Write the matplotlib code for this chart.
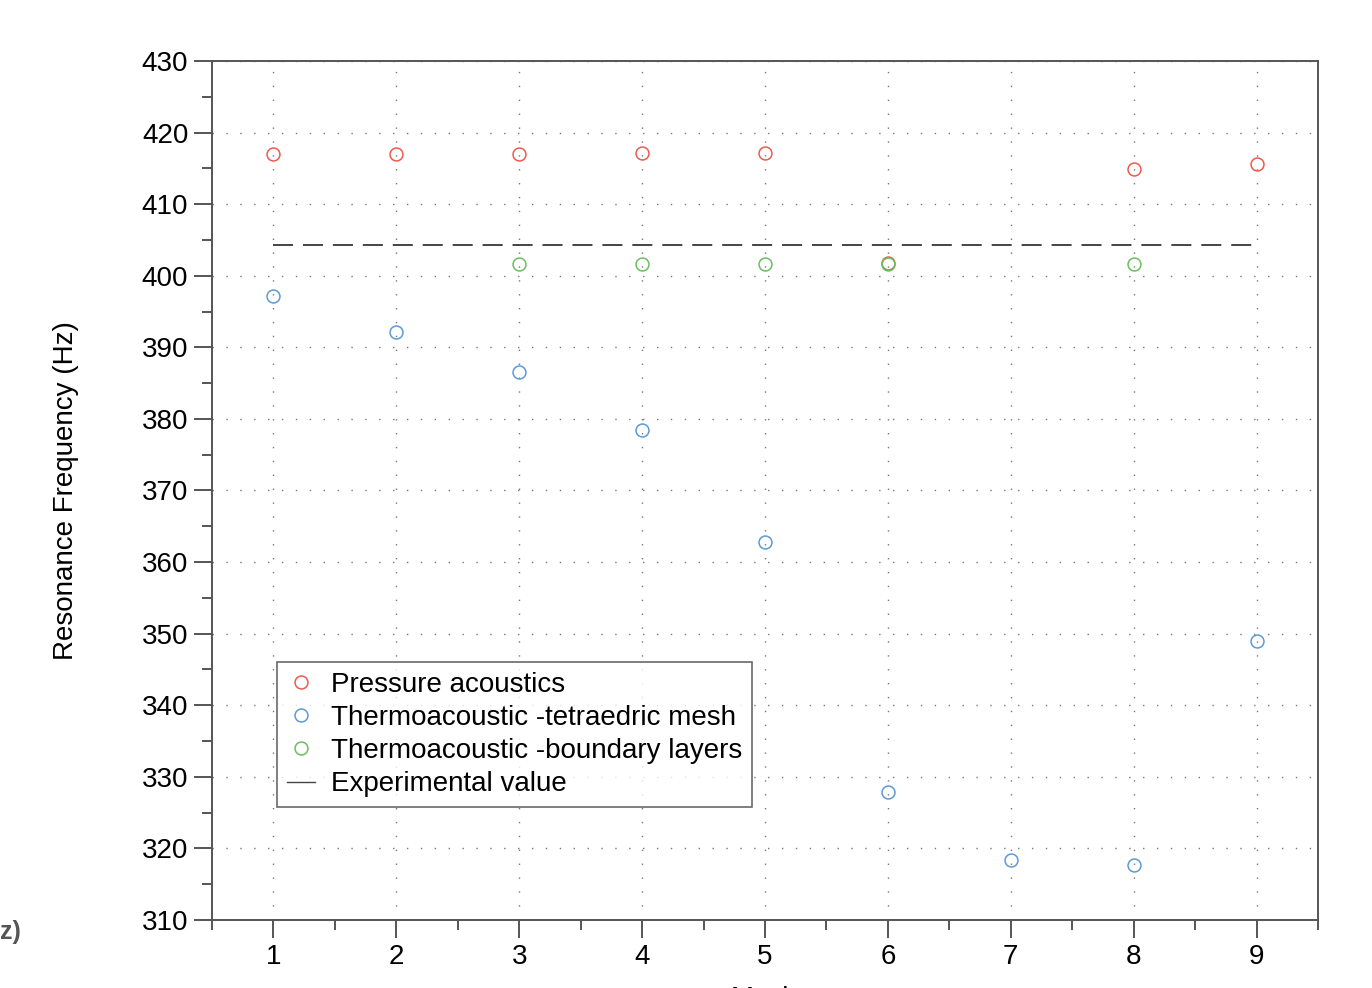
import matplotlib
matplotlib.use("Agg")
import matplotlib.pyplot as plt
import numpy as np
from matplotlib.ticker import MultipleLocator, FixedLocator

plt.rcParams['font.family'] = ['Liberation Sans', 'DejaVu Sans']

mesh = [1, 2, 3, 4, 5, 6, 7, 8, 9]
pressure_x = [1, 2, 3, 4, 5, 6, 8, 9]
pressure = [417.0, 417.0, 417.0, 417.1, 417.1, 401.8, 414.9, 415.6]
tetra_x = [1, 2, 3, 4, 5, 6, 7, 8, 9]
tetra = [397.2, 392.1, 386.6, 378.4, 362.8, 327.9, 318.4, 317.7, 349.0]
boundary_x = [3, 4, 5, 6, 8]
boundary = [401.6, 401.6, 401.6, 401.6, 401.6]
experimental = 404.3

labels = ["Pressure acoustics", "Thermoacoustic -tetraedric mesh",
          "Thermoacoustic -boundary layers", "Experimental value"]

fig = plt.figure(figsize=(13.72, 9.88), dpi=100)
ax = fig.add_axes([0.1545, 0.0688, 0.8061, 0.8695])

ms = 9.3
ax.plot(pressure_x, pressure, 'o', mfc='none', mec='#ee5a4e', ms=ms, mew=1.1, label=labels[0], zorder=3)
ax.plot(tetra_x, tetra, 'o', mfc='none', mec='#5b9bd5', ms=ms, mew=1.1, label=labels[1], zorder=3)
ax.plot(boundary_x, boundary, 'o', mfc='none', mec='#6abf5e', ms=ms, mew=1.1, label=labels[2], zorder=4)
ax.plot([mesh[0], mesh[-1]], [experimental, experimental], color='#444444', lw=1.4,
        dashes=(10.3, 5.1), label='_nolegend_', zorder=2)
leg_line, = ax.plot([], [], color='#444444', lw=1.0, label=labels[3])

ax.set_xlim(0.5, 9.5)
ax.set_ylim(310, 430)
ax.xaxis.set_major_locator(FixedLocator(mesh))
ax.xaxis.set_minor_locator(FixedLocator(np.arange(0.5, 10.0, 1.0)))
ax.yaxis.set_major_locator(MultipleLocator(10))
ax.yaxis.set_minor_locator(MultipleLocator(5))

ax.grid(True, which='major', color='#777777', linestyle=(0, (1, 9)), linewidth=1.0)

for s in ax.spines.values():
    s.set_color('#555555')
    s.set_linewidth(1.4)

ax.tick_params(axis='both', which='major', direction='out', length=13, width=1.4,
               color='#555555', labelsize=20, pad=4)
ax.tick_params(axis='both', which='minor', direction='out', length=7, width=1.4,
               color='#555555')
ax.tick_params(axis='x', which='major', pad=4)

ax.set_ylabel("Resonance Frequency (Hz)", fontsize=20, labelpad=45)
ax.set_xlabel("Mesh", fontsize=20, labelpad=12)

leg = ax.legend(loc='upper left', bbox_to_anchor=(0.0588, 0.3003), borderaxespad=0,
                fontsize=20, frameon=True, fancybox=False, handlelength=1.0,
                handletextpad=0.6, labelspacing=0.26, borderpad=0.35)
leg.get_frame().set_edgecolor('#444444')
leg.get_frame().set_linewidth(1.2)

fig.text(0.0, 1 - 932 / 988, "z)", fontsize=18, color='#555555', ha='left', va='center',
         fontweight='bold')

fig.savefig("out.png", dpi=100)
